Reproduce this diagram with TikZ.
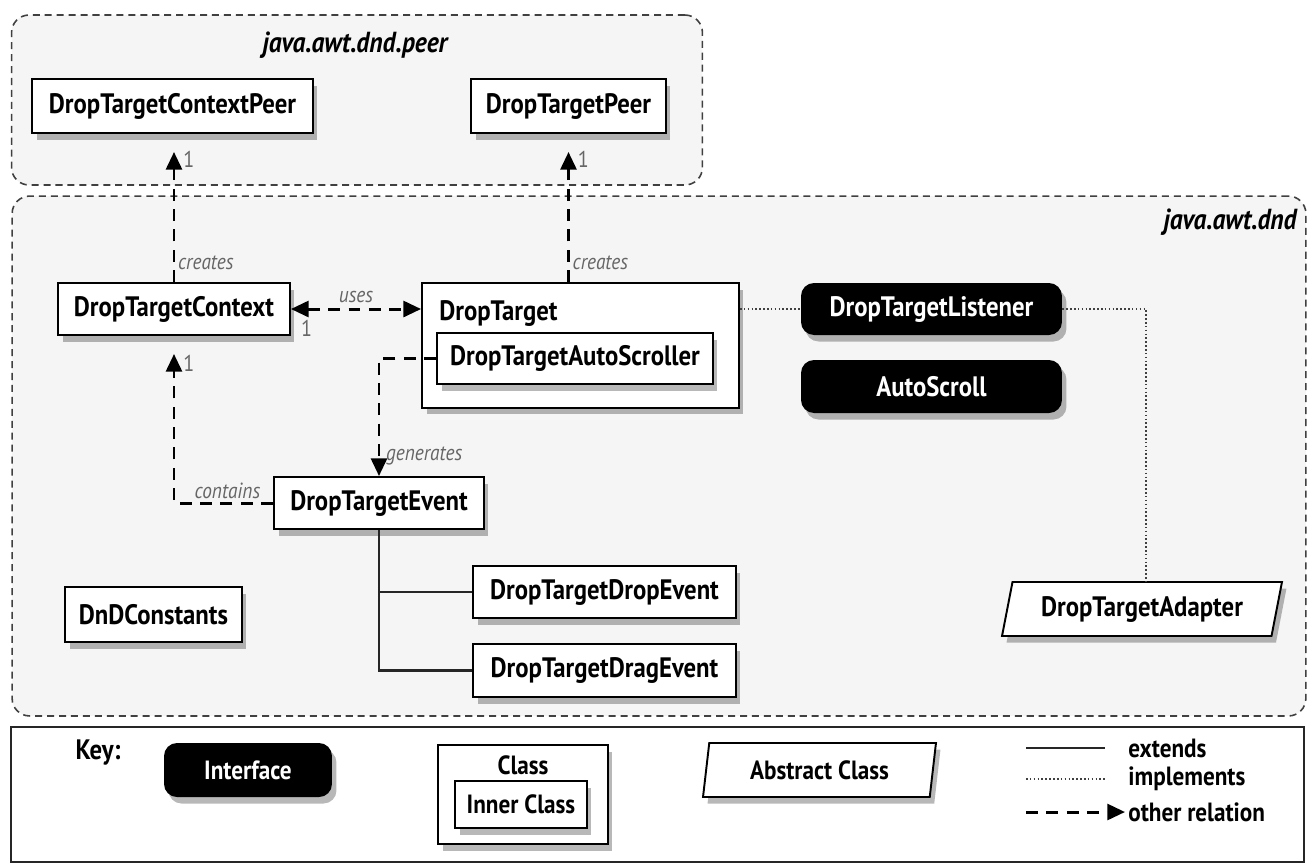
\documentclass[tikz,border=0pt]{standalone}
\usepackage{fontspec}
\setmainfont{PT Sans}[FakeStretch=0.88]
\usetikzlibrary{arrows.meta,shapes.geometric,shadows}
\begin{document}
\begin{tikzpicture}[x=0.02cm,y=-0.02cm, >={Triangle[length=10pt,width=9pt]},
  shd/.style={drop shadow={shadow xshift=0.09cm,shadow yshift=-0.13cm,opacity=0.28,fill=black}},
  pkg/.style={draw=black!75, line width=0.9pt, dash pattern=on 4pt off 2.8pt, rounded corners=0.35cm, fill=black!4, inner sep=0pt},
  bf/.style={font=\fontsize{16}{18}\selectfont\bfseries},
  cls/.style={draw=black, line width=1.1pt, fill=white, inner sep=0pt, shd, bf},
  iface/.style={fill=black, text=white, rounded corners=0.26cm, inner sep=0pt, shd, bf},
  abst/.style={trapezium, trapezium stretches body, draw=black, line width=1.1pt, fill=white, inner sep=0pt, shd, bf},
  rel/.style={draw=black, line width=1.7pt, dash pattern=on 6.8pt off 4.8pt},
  ext/.style={draw=black!85, line width=1.2pt},
  impl/.style={draw=black!75, line width=0.8pt, dash pattern=on 0.9pt off 1.3pt},
  lbl/.style={font=\fontsize{12.5}{14}\selectfont\itshape, text=black!60, inner sep=1.5pt},
  num/.style={font=\fontsize{13}{14}\selectfont, text=black!60, inner sep=1pt},
  pkglbl/.style={font=\fontsize{16.5}{18}\selectfont\bfseries\itshape, inner sep=0pt},
  keyf/.style={font=\fontsize{15}{17}\selectfont\bfseries}
]
\fill[white] (0,0) rectangle (1309,867);
\useasboundingbox (0,0) rectangle (1309,867);
% packages
\node[pkg, minimum width=13.82cm, minimum height=3.4cm] (peer) at (357,100) {};
\node[pkg, minimum width=25.88cm, minimum height=10.4cm] (dndpkg) at (659,456) {};
\node[draw=black!85, line width=1pt, fill=white, minimum width=25.86cm, minimum height=2.7cm, inner sep=0pt] (key) at (657.5,794.5) {};
\node[pkglbl] (peerlbl) at (355,45) {java.awt.dnd.peer};
\node[pkglbl, anchor=east] (dndlbl) at (1297,222) {java.awt.dnd};
% classes
\node[cls, minimum width=5.62cm, minimum height=1.08cm] (dtcp) at (172.5,106) {DropTargetContextPeer};
\node[cls, minimum width=3.9cm, minimum height=1.08cm] (dtp) at (568.5,106) {DropTargetPeer};
\node[cls, minimum width=4.64cm, minimum height=1.04cm] (dtc) at (174,309) {DropTargetContext};
\node[cls, minimum width=6.34cm, minimum height=2.5cm] (dt) at (580.5,345.5) {};
\node[bf, anchor=west, inner sep=0pt] (dtlbl) at (439,313) {DropTarget};
\node[cls, minimum width=5.52cm, minimum height=1.02cm] (dtas) at (575,358.5) {DropTargetAutoScroller};
\node[cls, minimum width=4.2cm, minimum height=1.04cm] (dte) at (379,503) {DropTargetEvent};
\node[cls, minimum width=5.26cm, minimum height=1.04cm] (dtde) at (604.5,592) {DropTargetDropEvent};
\node[cls, minimum width=5.26cm, minimum height=1.06cm] (dtge) at (604.5,670.5) {DropTargetDragEvent};
\node[cls, minimum width=3.54cm, minimum height=1.1cm] (dndc) at (153.5,614.5) {DnDConstants};
\node[iface, minimum width=5.22cm, minimum height=1.04cm] (dtl) at (931.5,309) {DropTargetListener};
\node[iface, minimum width=5.22cm, minimum height=1.06cm] (as) at (931.5,386.5) {AutoScroll};
\node[abst, trapezium left angle=68, trapezium right angle=112, minimum width=5.6cm, minimum height=1.08cm] (dta) at (1142,609) {DropTargetAdapter};
% connectors
\draw[rel,->, shorten >=0.36cm] (dtc.north) -- node[lbl, pos=0.13, right]{creates} node[num, pos=0.83, right=0.12cm]{1} (dtc.north |- dtcp.south);
\draw[rel,->, shorten >=0.36cm] (dtp.south |- dt.north) -- node[lbl,pos=0.13,right]{creates} node[num,pos=0.83,right=0.12cm]{1} (dtp.south);
\draw[rel,<->] (dtc.east) -- node[lbl, above=1pt]{uses} node[num, pos=0.12, below=0.15cm]{1} (dtc.east -| dt.west);
\draw[rel,->] (dtas.west) -| node[lbl, pos=0.915, right=0.06cm]{generates} (dte.north);
\draw[rel,->, shorten >=0.36cm] (dte.west) -| node[lbl, pos=0.23, above]{contains} node[num, pos=0.917, right=0.12cm]{1} (dtc.south);
\draw[ext] (dte.south) |- (dtde.west);
\draw[ext] (dte.south) |- (dtge.west);
\draw[impl] (dtl.west -| dt.east) -- (dtl.west);
\coordinate (jn) at (1146,309);
\draw[impl] (dtl.east) -- (jn) -- (jn |- dta.north);
% key
\node[font=\fontsize{16}{18}\selectfont\bfseries] (keylbl) at (98,753) {Key:};
\node[iface, keyf, minimum width=3.36cm, minimum height=1.08cm] (kif) at (248,770) {Interface};
\node[cls, minimum width=3.4cm, minimum height=1.98cm] (kcls) at (523,794.5) {};
\node[keyf, inner sep=0pt] (kclslbl) at (523,765) {Class};
\node[cls, keyf, minimum width=2.64cm, minimum height=0.94cm] (kin) at (521,804.5) {Inner Class};
\node[abst, keyf, trapezium left angle=72, trapezium right angle=108, minimum width=4.66cm, minimum height=1.08cm] (kabs) at (819.5,770) {Abstract Class};
\node[keyf, anchor=west, inner sep=0pt] (kext) at (1128,748) {extends};
\node[keyf, anchor=west, inner sep=0pt] (kimp) at (1128,779) {implements};
\node[keyf, anchor=west, inner sep=0pt] (koth) at (1128,812) {other relation};
\coordinate (ke) at (1026,748);
\coordinate (ki) at (1026,779);
\coordinate (ko) at (1026,812);
\draw[ext, shorten >=0.46cm] (ke) -- (kext.west);
\draw[impl, shorten >=0.42cm] (ki) -- (kimp.west);
\draw[rel,->, shorten >=0.06cm] (ko) -- (koth.west);
\end{tikzpicture}
\end{document}
